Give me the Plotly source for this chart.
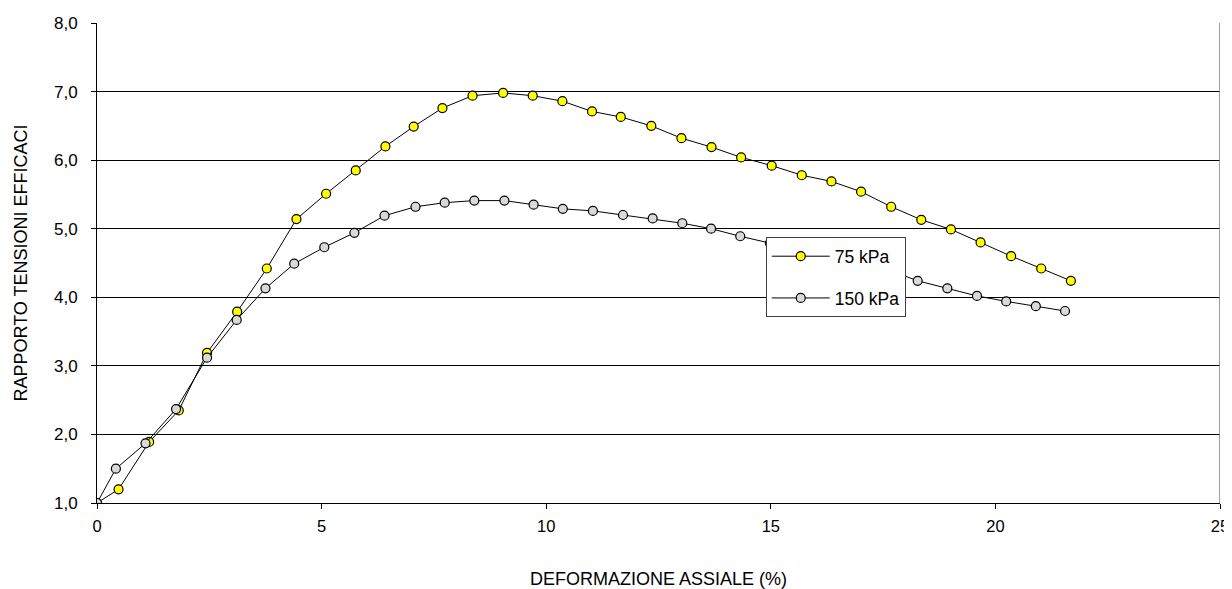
import plotly.graph_objects as go

# Deformazione assiale (%) and rapporto tensioni efficaci
x_75 = [0, 0.48, 1.16, 1.82, 2.45, 3.12, 3.78, 4.44, 5.10, 5.76, 6.42, 7.05, 7.69, 8.36,
        9.04, 9.70, 10.36, 11.02, 11.66, 12.34, 13.01, 13.68, 14.34, 15.02, 15.69, 16.35,
        17.01, 17.68, 18.35, 19.01, 19.67, 20.35, 21.02, 21.68]
y_75 = [1.00, 1.20, 1.89, 2.35, 3.19, 3.79, 4.42, 5.14, 5.51, 5.85, 6.20, 6.49, 6.76, 6.94,
        6.98, 6.94, 6.86, 6.71, 6.63, 6.50, 6.32, 6.19, 6.04, 5.92, 5.78, 5.69,
        5.54, 5.32, 5.13, 4.99, 4.80, 4.60, 4.42, 4.24]

x_150 = [0, 0.42, 1.08, 1.76, 2.45, 3.11, 3.75, 4.39, 5.06, 5.73, 6.40, 7.09, 7.74, 8.40,
         9.07, 9.72, 10.37, 11.04, 11.71, 12.37, 13.03, 13.67, 14.32, 14.98, 15.64, 16.30,
         16.96, 17.62, 18.27, 18.93, 19.59, 20.24, 20.90, 21.55]
y_150 = [1.00, 1.50, 1.87, 2.37, 3.12, 3.67, 4.13, 4.49, 4.73, 4.94, 5.19, 5.32, 5.38, 5.41,
         5.41, 5.35, 5.29, 5.26, 5.20, 5.15, 5.08, 5.00, 4.89, 4.79, 4.68, 4.58,
         4.49, 4.40, 4.24, 4.13, 4.02, 3.94, 3.87, 3.80]

names = ["75 kPa", "150 kPa"]
x_ticks = [0, 5, 10, 15, 20, 25]
y_ticks = [1, 2, 3, 4, 5, 6, 7, 8]

FONT = "Liberation Sans, Arial, sans-serif"

fig = go.Figure()
fig.add_trace(go.Scatter(
    x=x_75, y=y_75, name=names[0], mode="lines+markers", legendgroup="a",
    line=dict(color="black", width=1),
    marker=dict(size=9, color="#FFFF00", line=dict(color="black", width=1.2)),
))
fig.add_trace(go.Scatter(
    x=x_150, y=y_150, name=names[1], mode="lines+markers", legendgroup="b",
    line=dict(color="black", width=1),
    marker=dict(size=9, color="#D9D9D9", line=dict(color="black", width=1.2)),
))

# right border of plot area (grey)
fig.add_shape(type="line", xref="x", yref="y", x0=25, x1=25, y0=1, y1=8,
              line=dict(color="#808080", width=1.5))

# page body has an 8px margin, so the figure is sized/offset to compensate
fig.update_layout(
    width=1224, height=581,
    margin=dict(l=89, r=12, t=15, b=86, autoexpand=False),
    paper_bgcolor="white", plot_bgcolor="white",
    separators=",.",
    font=dict(family=FONT, size=17, color="black"),
    showlegend=True,
    legend=dict(
        x=0.5955, y=0.5535, xanchor="left", yanchor="top",
        bgcolor="white", bordercolor="#404040", borderwidth=1,
        font=dict(family=FONT, size=17.5, color="black"),
        tracegroupgap=16, traceorder="grouped", itemwidth=58,
    ),
    xaxis=dict(
        range=[0, 25], tickvals=x_ticks, ticks="outside", ticklen=5, tickcolor="black",
        showline=True, linecolor="black", linewidth=1, mirror=False, automargin=False,
        showgrid=False, zeroline=False,
        tickfont=dict(family=FONT, size=16.5), ticklabelstandoff=3,
        title=dict(text="DEFORMAZIONE ASSIALE (%)", font=dict(family=FONT, size=18), standoff=45),
    ),
    yaxis=dict(
        range=[1, 8], tickvals=y_ticks, tickformat=".1f", ticks="outside", ticklen=5,
        tickcolor="black", showline=True, linecolor="black", linewidth=1, automargin=False,
        showgrid=True, gridcolor="black", gridwidth=1, zeroline=False,
        tickfont=dict(family=FONT, size=17), ticklabelstandoff=10,
        title=dict(text="RAPPORTO TENSIONI EFFICACI", font=dict(family=FONT, size=18), standoff=21),
    ),
)

fig.write_html("out.html")
